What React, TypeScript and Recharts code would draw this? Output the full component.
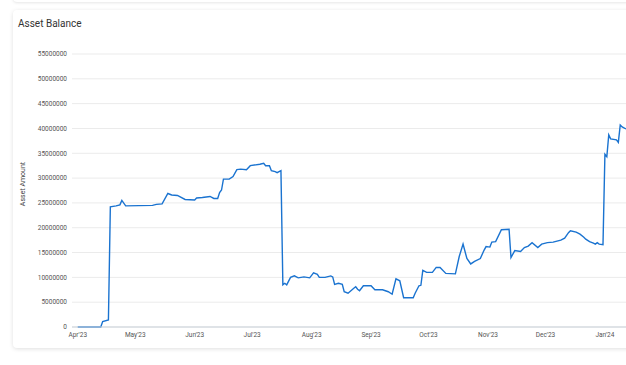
import React from "react";
import { LineChart, Line, XAxis, YAxis, CartesianGrid } from "recharts";

const dates: string[] = [
  "2023-04-01","2023-04-13","2023-04-14","2023-04-17","2023-04-18","2023-04-21","2023-04-23","2023-04-24","2023-04-26",
  "2023-05-10","2023-05-12","2023-05-15","2023-05-18","2023-05-20","2023-05-23","2023-05-27",
  "2023-06-01","2023-06-02","2023-06-05","2023-06-09","2023-06-11","2023-06-13","2023-06-14","2023-06-15","2023-06-16",
  "2023-06-19","2023-06-21","2023-06-23","2023-06-25","2023-06-28","2023-06-30",
  "2023-07-05","2023-07-07","2023-07-08","2023-07-10","2023-07-11","2023-07-13","2023-07-14","2023-07-16","2023-07-17",
  "2023-07-18","2023-07-19","2023-07-21","2023-07-23","2023-07-25","2023-07-28","2023-07-31",
  "2023-08-02","2023-08-04","2023-08-05","2023-08-08","2023-08-11","2023-08-12","2023-08-13","2023-08-15","2023-08-17",
  "2023-08-18","2023-08-20","2023-08-23","2023-08-24","2023-08-25","2023-08-26","2023-08-28",
  "2023-09-01","2023-09-03","2023-09-07","2023-09-10","2023-09-12","2023-09-14","2023-09-16","2023-09-18","2023-09-23",
  "2023-09-24","2023-09-26","2023-09-27","2023-09-28","2023-09-30",
  "2023-10-03","2023-10-05","2023-10-07","2023-10-10","2023-10-15","2023-10-17","2023-10-19","2023-10-21","2023-10-23",
  "2023-10-25","2023-10-28","2023-10-30","2023-10-31",
  "2023-11-02","2023-11-03","2023-11-05","2023-11-08","2023-11-12","2023-11-13","2023-11-15","2023-11-18","2023-11-20",
  "2023-11-22","2023-11-24","2023-11-27","2023-11-29",
  "2023-12-02","2023-12-05","2023-12-07","2023-12-09","2023-12-11","2023-12-13","2023-12-14","2023-12-17","2023-12-19",
  "2023-12-21","2023-12-22","2023-12-24","2023-12-26","2023-12-27","2023-12-28","2023-12-29","2023-12-31",
  "2024-01-01","2024-01-02","2024-01-03","2024-01-04","2024-01-07","2024-01-08","2024-01-09","2024-01-10","2024-01-12",
];

const balances: number[] = [
  0, 0, 1100000, 1400000, 24200000, 24400000, 24600000, 25500000, 24400000,
  24500000, 24700000, 24800000, 26900000, 26600000, 26500000, 25700000,
  25600000, 26000000, 26100000, 26300000, 25900000, 25900000, 27100000, 27600000, 29800000,
  29800000, 30300000, 31700000, 31800000, 31700000, 32500000,
  32800000, 33000000, 32500000, 32500000, 31500000, 31300000, 31100000, 31500000, 8500000,
  8800000, 8500000, 10000000, 10300000, 9900000, 10100000, 9900000,
  10900000, 10600000, 10000000, 10000000, 10300000, 10100000, 8600000, 8800000, 8600000,
  7100000, 6800000, 7800000, 8100000, 7600000, 7300000, 8300000,
  8300000, 7500000, 7500000, 7100000, 6600000, 9700000, 9300000, 5900000, 5900000,
  6800000, 8300000, 8400000, 11400000, 11000000,
  11000000, 12000000, 12000000, 10800000, 10700000, 14200000, 16700000, 13800000, 12700000,
  13200000, 13800000, 15500000, 16200000,
  16100000, 17100000, 17200000, 19600000, 19700000, 14000000, 15400000, 15200000, 16000000,
  16300000, 17000000, 16000000, 16700000,
  17000000, 17100000, 17300000, 17500000, 17900000, 19000000, 19400000, 19100000, 18700000,
  18100000, 17700000, 17200000, 16900000, 16700000, 17000000, 16700000, 16600000,
  34800000, 34300000, 38700000, 37900000, 37700000, 37200000, 40700000, 40300000, 39900000,
];

const monthTicks: string[] = [
  "2023-04-01","2023-05-01","2023-06-01","2023-07-01","2023-08-01",
  "2023-09-01","2023-10-01","2023-11-01","2023-12-01","2024-01-01",
];
const monthLabels: string[] = [
  "Apr'23","May'23","Jun'23","Jul'23","Aug'23","Sep'23","Oct'23","Nov'23","Dec'23","Jan'24",
];
const yTicks: number[] = [0, 5000000, 10000000, 15000000, 20000000, 25000000, 30000000, 35000000, 40000000, 45000000, 50000000, 55000000];

const toTs = (d: string) => Date.parse(d + "T00:00:00Z");
const data = dates.map((d, i) => ({ t: toTs(d), v: balances[i] }));
const xTicks = monthTicks.map(toTs);
const labelOf = (ts: number) => {
  const i = xTicks.indexOf(ts);
  return i >= 0 ? monthLabels[i] : "";
};

const FONT = "Roboto, 'Noto Sans', sans-serif";

const YLabel = () => (
  <text
    x={23}
    y={184}
    transform="rotate(-90, 23, 184)"
    textAnchor="middle"
    dominantBaseline="central"
    fontSize={7}
    fill="#444"
    fontFamily={FONT}
  >
    Asset Amount
  </text>
);

export default function App() {
  return (
    <div style={{ position: "fixed", left: 0, top: 0, width: 626, height: 365, overflow: "hidden", background: "#fff", fontFamily: FONT }}>
      <div style={{ position: "absolute", left: 13, top: -40, width: 640, height: 42, background: "#fff", boxShadow: "0 1px 3px rgba(0,0,0,0.10)", borderRadius: 4 }} />
      <div style={{ position: "absolute", left: 13, top: 10, width: 640, height: 338, background: "#fff", boxShadow: "0 1px 4px rgba(0,0,0,0.13)", borderRadius: 4 }} />
      <div style={{ position: "absolute", left: 18, top: 17, fontSize: 10, color: "#333", lineHeight: "14px", fontFamily: FONT }}>Asset Balance</div>
      <div style={{ position: "absolute", left: 0, top: 0 }}>
        <LineChart width={626} height={365} data={data} margin={{ top: 54, right: 0, bottom: 8, left: 0 }}>
          <CartesianGrid horizontal={true} vertical={false} stroke="#ebebeb" strokeWidth={1} />
          <XAxis
            dataKey="t"
            type="number"
            scale="time"
            domain={[toTs("2023-03-29"), toTs("2024-01-12")]}
            ticks={xTicks}
            tickFormatter={labelOf}
            height={30}
            tickLine={false}
            tickSize={0}
            tickMargin={5}
            axisLine={{ stroke: "#c9d1d9" }}
            tick={{ fontSize: 6.5, fill: "#555", fontFamily: FONT }}
            allowDataOverflow
          />
          <YAxis
            type="number"
            domain={[0, 55000000]}
            ticks={yTicks}
            width={72}
            tickLine={false}
            tickSize={0}
            tickMargin={5}
            axisLine={false}
            interval={0}
            tick={{ fontSize: 6.5, fill: "#555", fontFamily: FONT }}
            label={{ content: () => <YLabel /> }}
          />
          <Line
            type="linear"
            dataKey="v"
            stroke="#1a73d0"
            strokeWidth={1.4}
            dot={false}
            isAnimationActive={false}
          />
        </LineChart>
      </div>
    </div>
  );
}
